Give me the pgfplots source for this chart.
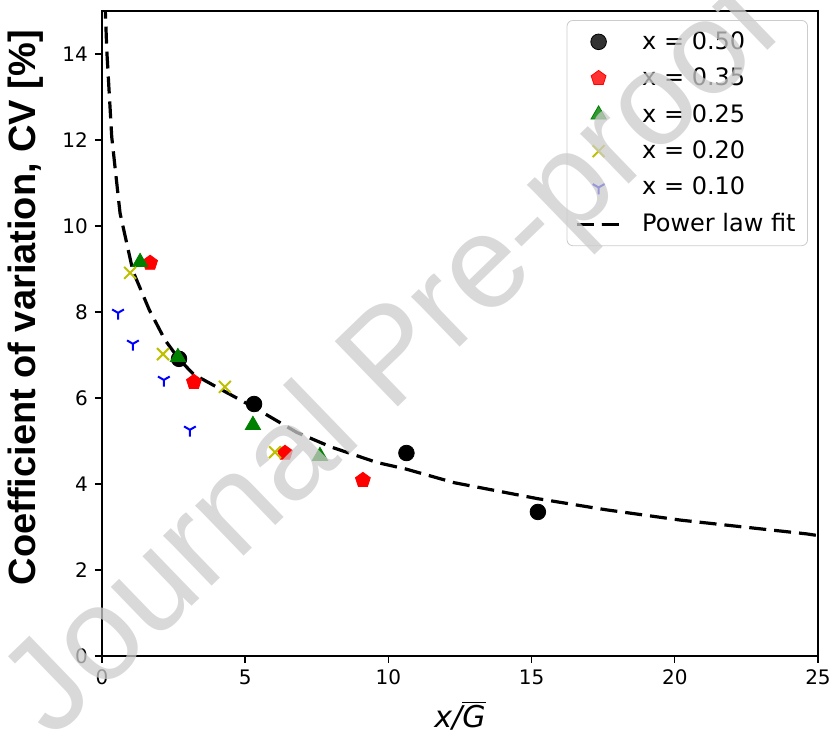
\documentclass[border=0pt]{standalone}
\usepackage{fontspec}
\usepackage{pgfplots}
\pgfplotsset{compat=1.18}
\usetikzlibrary{plotmarks}
\newfontfamily\dv{DejaVu Sans}
\newfontfamily\lsans{Liberation Sans}
\definecolor{mplgreen}{HTML}{008000}
\definecolor{mplyellow}{HTML}{BFBF00}
\definecolor{mplblue}{HTML}{0000FF}
\begin{document}
\begin{tikzpicture}
\useasboundingbox (-51pt,-43pt) rectangle (365pt,328pt);
\begin{axis}[
  scale only axis, width=358pt, height=322.5pt,
  xmin=0, xmax=25, ymin=0, ymax=15,
  xtick={0,5,10,15,20,25}, ytick={0,2,4,6,8,10,12,14},
  xtick pos=lower, ytick pos=left, tick align=outside,
  major tick length=3.5pt,
  axis line style={line width=0.7pt},
  tick style={line width=0.7pt, black},
  ticklabel style={font=\dv\fontsize{10}{12}\selectfont},
  /pgf/number format/assume math mode=true,
  xlabel={\dv\fontsize{15}{18}\selectfont\itshape x/$\overline{\hbox{\dv\itshape G}}$},
  ylabel={\lsans\bfseries\fontsize{19}{21}\selectfont Coefficient of variation, CV [\%]},
  xlabel style={at={(axis description cs:0.5,-0.092)},anchor=center},
  ylabel style={at={(axis description cs:-0.106,0.54)},anchor=center},
  legend style={at={(rel axis cs:0.986,0.986)}, anchor=north east,
    draw=black!20, rounded corners=3pt, fill=white, fill opacity=0.8, text opacity=1,
    font=\dv\fontsize{12}{14}\selectfont, row sep=3.8pt, inner xsep=4pt, inner ysep=3.5pt,
    cells={anchor=west},
    /tikz/every odd column/.append style={column sep=8pt}},
  legend image code/.code={\draw[mark repeat=2,mark phase=2,#1] plot coordinates {(0pt,0pt) (11pt,0pt) (22pt,0pt)};},
  clip=true
]
\addplot[only marks, mark=*, mark size=3.9pt, black] coordinates {
(2.69,6.91) (5.31,5.86) (10.63,4.72) (15.22,3.35)};
\addlegendentry{x = 0.50}
\addplot[only marks, mark=pentagon*, mark size=3.9pt, red, mark options={fill=red}] coordinates {
(1.68,9.14) (3.21,6.37) (6.39,4.72) (9.11,4.09)};
\addlegendentry{x = 0.35}
\addplot[only marks, mark=triangle*, mark size=4.4pt, mplgreen, mark options={fill=mplgreen}] coordinates {
(1.33,9.16) (2.65,6.95) (5.27,5.37) (7.61,4.65)};
\addlegendentry{x = 0.25}
\addplot[only marks, mark=x, mark size=4.2pt, mplyellow, mark options={line width=1pt}] coordinates {
(0.98,8.91) (2.13,7.02) (4.29,6.26) (6.04,4.74)};
\addlegendentry{x = 0.20}
\addplot[only marks, mark=Mercedes star flipped, mark size=3.4pt, mplblue, mark options={line width=1pt}] coordinates {
(0.56,7.98) (1.08,7.26) (2.16,6.42) (3.07,5.26)};
\addlegendentry{x = 0.10}
\addplot[black, line width=1.6pt, dash pattern=on 8.5pt off 4pt] coordinates {
(0.07,15.8) (0.17,14.05) (0.34,12.07) (0.63,10.3) (1.08,8.95) (1.65,8.05) (2.2,7.35)
(2.69,6.9) (3.2,6.55) (4.29,6.15) (5.31,5.78) (6.8,5.2) (8.0,4.86) (9.6,4.5)
(10.6,4.35) (12.3,4.03) (15.2,3.66) (17.6,3.40) (20.2,3.16) (24.6,2.84) (25,2.80)};
\addlegendentry{Power law fit}
\end{axis}
\node[rotate=44, text=black!20, opacity=0.75, font=\lsans\fontsize{66}{66}\selectfont] at (147pt,147pt) {Journal Pre-proof};
\end{tikzpicture}
\end{document}
